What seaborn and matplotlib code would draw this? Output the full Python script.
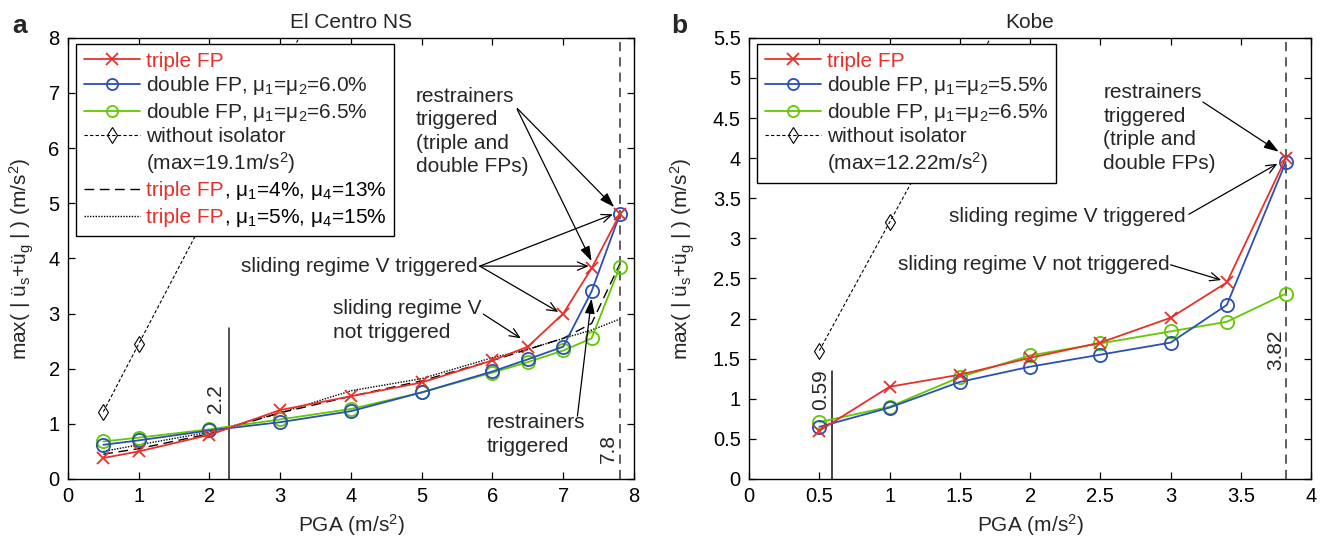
import numpy as np
import matplotlib
matplotlib.use("Agg")
import matplotlib.pyplot as plt
import seaborn as sns
from matplotlib.lines import Line2D

sns.set_style("ticks")
plt.rcParams['font.family'] = ['Liberation Sans', 'DejaVu Sans']
plt.rcParams['mathtext.fontset'] = 'custom'
plt.rcParams['mathtext.rm'] = 'Liberation Sans'
plt.rcParams['mathtext.it'] = 'Liberation Sans:italic'
plt.rcParams['mathtext.bf'] = 'Liberation Sans:bold'

# ---- El Centro NS (panel a) ----
pga_a = [0.5, 1, 2, 3, 4, 5, 6, 6.5, 7, 7.4, 7.8]
triple_a = [0.38, 0.5, 0.8, 1.25, 1.5, 1.75, 2.15, 2.4, 3.0, 3.82, 4.8]
double60_a = [0.62, 0.7, 0.88, 1.03, 1.23, 1.57, 1.95, 2.17, 2.4, 3.4, 4.8]
double65_a = [0.68, 0.75, 0.9, 1.08, 1.27, 1.57, 1.93, 2.12, 2.33, 2.55, 3.85]
triple_mu4_a = [0.45, 0.55, 0.82, 1.2, 1.5, 1.78, 2.15, 2.35, 2.55, 2.82, 3.9]
triple_mu5_a = [0.5, 0.62, 0.85, 1.2, 1.6, 1.82, 2.2, 2.35, 2.55, 2.7, 2.9]
pga_noiso_a = [0.5, 1, 2, 3, 4, 5, 6, 7, 7.8]
noiso_a = [1.22, 2.45, 4.9, 7.35, 9.8, 12.2, 14.7, 17.1, 19.1]
line_22 = 2.27
line_78 = 7.8

# ---- Kobe (panel b) ----
pga_b = [0.5, 1, 1.5, 2, 2.5, 3, 3.4, 3.82]
triple_b = [0.6, 1.15, 1.3, 1.51, 1.7, 2.01, 2.45, 4.0]
double55_b = [0.65, 0.89, 1.21, 1.4, 1.55, 1.7, 2.17, 3.95]
double65_b = [0.71, 0.9, 1.27, 1.54, 1.69, 1.84, 1.96, 2.31]
pga_noiso_b = [0.5, 1, 1.5, 2, 2.5, 3, 3.5, 3.82]
noiso_b = [1.6, 3.2, 4.8, 6.4, 8.0, 9.6, 11.2, 12.22]
line_059 = 0.59
line_382 = 3.82

RED = "#e8302a"
BLUE = "#2b4fb3"
GREEN = "#62c800"
FS = 15
TFS = 14.5

fig = plt.figure(figsize=(13.3, 5.38), dpi=100)
axa = fig.add_axes([0.0511, 0.1097, 0.4256, 0.8200])
axb = fig.add_axes([0.5632, 0.1097, 0.4226, 0.8200])


def series(ax, x, y, color, marker, ms, ls="-", lw=1.3, mfc="none", z=3):
    sns.lineplot(x=x, y=y, ax=ax, color=color, marker=marker, markersize=ms,
                 markeredgecolor=color, markeredgewidth=lw, mfc=mfc,
                 linestyle=ls, linewidth=lw, sort=False, zorder=z)


# panel a lines
series(axa, pga_a, triple_mu4_a, "black", None, 0, ls=(0, (7, 4)), lw=1.0, z=2)
series(axa, pga_a, triple_mu5_a, "black", None, 0, ls=(0, (1, 1)), lw=1.0, z=2)
series(axa, pga_noiso_a, noiso_a, "black", "d", 8, ls=(0, (3, 2)), lw=0.8, z=2)
series(axa, pga_a, double65_a, GREEN, "o", 9.5, z=3)
series(axa, pga_a, double60_a, BLUE, "o", 9.5, z=4)
series(axa, pga_a, triple_a, RED, "x", 9, z=5)
axa.plot([line_22, line_22], [0, 2.74], color="#222222", lw=1.1)
axa.axvline(line_78, color="#333333", lw=1.1, ls=(0, (6, 4)))

# panel b lines
series(axb, pga_noiso_b, noiso_b, "black", "d", 8, ls=(0, (3, 2)), lw=0.8, z=2)
series(axb, pga_b, double65_b, GREEN, "o", 9.5, z=3)
series(axb, pga_b, double55_b, BLUE, "o", 9.5, z=4)
series(axb, pga_b, triple_b, RED, "x", 9, z=5)
axb.plot([line_059, line_059], [0, 1.35], color="#111111", lw=1.1)
axb.axvline(line_382, color="#333333", lw=1.1, ls=(0, (6, 4)))

for ax, xlim, ylim, xt, yt in [
        (axa, (0, 8), (0, 8), np.arange(0, 9, 1), np.arange(0, 9, 1)),
        (axb, (0, 4), (0, 5.5), np.arange(0, 4.5, 0.5), np.arange(0, 6, 0.5))]:
    ax.set_xlim(*xlim)
    ax.set_ylim(*ylim)
    ax.set_xticks(xt)
    ax.set_yticks(yt)
    ax.set_xticklabels(["%g" % v for v in xt])
    ax.set_yticklabels(["%g" % v for v in yt])
    ax.tick_params(direction="in", top=True, right=True, length=5, width=0.9,
                   labelsize=TFS, pad=6, colors="black")
    for s in ax.spines.values():
        s.set_color("black")
        s.set_linewidth(1.0)
        s.set_visible(True)
    ax.set_xlabel("PGA (m/s$^2$)", fontsize=FS)
    ax.set_ylabel("max( | ü$_\\mathrm{s}$+ü$_\\mathrm{g}$ | ) (m/s$^2$)", fontsize=FS)
    ax.xaxis.set_label_coords(0.5, -0.075)
    ax.grid(False)

axa.yaxis.set_label_coords(-0.056, 0.5)
axb.yaxis.set_label_coords(-0.093, 0.5)
axa.set_title("El Centro NS", fontsize=FS, pad=7)
axb.set_title("Kobe", fontsize=FS, pad=7)
fig.text(0.009, 0.939, "a", fontsize=19, fontweight="bold", va="baseline")
fig.text(0.5045, 0.939, "b", fontsize=19, fontweight="bold", va="baseline")


def handle(color, marker, ls="-", lw=1.3, ms=8):
    return Line2D([], [], color=color, marker=marker, markersize=ms, mfc="none",
                  mec=color, mew=lw, ls=ls, lw=lw)


blank = Line2D([], [], ls="none")
h_a = [handle(RED, "x"), handle(BLUE, "o"), handle(GREEN, "o"),
       handle("black", "d", ls=(0, (3, 2)), lw=0.8, ms=8), blank,
       handle("black", None, ls=(0, (7, 4)), lw=1.0),
       handle("black", None, ls=(0, (1, 1)), lw=1.0)]
l_a = ["triple FP", "double FP, μ$_1$=μ$_2$=6.0%", "double FP, μ$_1$=μ$_2$=6.5%",
       "without isolator", "(max=19.1m/s$^2$)",
       "triple FP, μ$_1$=4%, μ$_4$=13%", "triple FP, μ$_1$=5%, μ$_4$=15%"]
h_b = h_a[:5]
l_b = ["triple FP", "double FP, μ$_1$=μ$_2$=5.5%", "double FP, μ$_1$=μ$_2$=6.5%",
       "without isolator", "(max=12.22m/s$^2$)"]

legs = []
for ax, h, l in [(axa, h_a, l_a), (axb, h_b, l_b)]:
    leg = ax.legend(h, l, loc="upper left", bbox_to_anchor=(0.015, 0.985),
                    borderaxespad=0, fontsize=FS, frameon=True, fancybox=False,
                    edgecolor="black", framealpha=1, handlelength=2.7,
                    handletextpad=0.3, labelspacing=0.17, borderpad=0.35,
                    numpoints=1)
    leg.get_frame().set_linewidth(1.0)
    leg.set_zorder(10)
    leg.get_texts()[0].set_color(RED)
    legs.append(leg)

# mixed colour labels for the two triple FP variants
fig.canvas.draw()
r = fig.canvas.get_renderer()
for t in legs[0].get_texts()[5:]:
    full = t.get_text()
    x0, y0 = t.get_transform().transform((0, 0))
    t.set_visible(False)
    red = fig.text(x0, y0, "triple FP", color=RED, fontsize=FS, ha="left",
                   va="baseline", transform=None, zorder=20)
    w = red.get_window_extent(r).width
    fig.text(x0 + w, y0, full[len("triple FP"):], color="black", fontsize=FS,
             ha="left", va="baseline", transform=None, zorder=20)

filled = dict(arrowstyle="-|>,head_length=0.9,head_width=0.3", color="black",
              lw=0.9, shrinkA=0, shrinkB=0)
opened = dict(arrowstyle="->,head_length=0.7,head_width=0.3", color="black",
              lw=0.9, shrinkA=0, shrinkB=0)

# panel a annotations
axa.text(4.92, 6.3, "restrainers\ntriggered\n(triple and\ndouble FPs)", fontsize=FS,
         ha="left", va="center", linespacing=1.3)
axa.annotate("", xy=(7.72, 4.93), xytext=(6.35, 6.72), arrowprops=filled)
axa.annotate("", xy=(7.4, 3.95), xytext=(6.35, 6.70), arrowprops=filled)
axa.text(5.79, 3.86, "sliding regime V triggered", fontsize=FS, ha="right", va="center")
for tgt in [(7.7, 4.8), (7.36, 3.86), (6.93, 3.03)]:
    axa.annotate("", xy=tgt, xytext=(5.82, 3.86), arrowprops=opened)
axa.text(3.75, 2.87, "sliding regime V\nnot triggered", fontsize=FS, ha="left",
         va="center", linespacing=1.3)
axa.annotate("", xy=(6.4, 2.55), xytext=(5.87, 2.99), arrowprops=opened)
axa.text(5.91, 0.81, "restrainers\ntriggered", fontsize=FS, ha="left", va="center",
         linespacing=1.3)
axa.annotate("", xy=(7.4, 3.27), xytext=(7.2, 1.14), arrowprops=filled)
axa.text(2.08, 1.46, "2.2", fontsize=FS, rotation=90, ha="center", va="center")
axa.text(7.64, 0.55, "7.8", fontsize=FS, rotation=90, ha="center", va="center")

# panel b annotations
axb.text(2.52, 4.375, "restrainers\ntriggered\n(triple and\ndouble FPs)", fontsize=FS,
         ha="left", va="center", linespacing=1.3)
axb.annotate("", xy=(3.77, 4.08), xytext=(3.23, 4.7), arrowprops=filled)
axb.text(3.11, 3.27, "sliding regime V triggered", fontsize=FS, ha="right", va="center")
axb.annotate("", xy=(3.76, 3.93), xytext=(3.13, 3.3), arrowprops=opened)
axb.text(2.99, 2.67, "sliding regime V not triggered", fontsize=FS, ha="right",
         va="center")
axb.annotate("", xy=(3.36, 2.48), xytext=(3.0, 2.67), arrowprops=opened)
axb.text(0.51, 1.11, "0.59", fontsize=FS, rotation=90, ha="center", va="center")
axb.text(3.75, 1.615, "3.82", fontsize=FS, rotation=90, ha="center", va="center")

fig.savefig("out.png", dpi=100)
